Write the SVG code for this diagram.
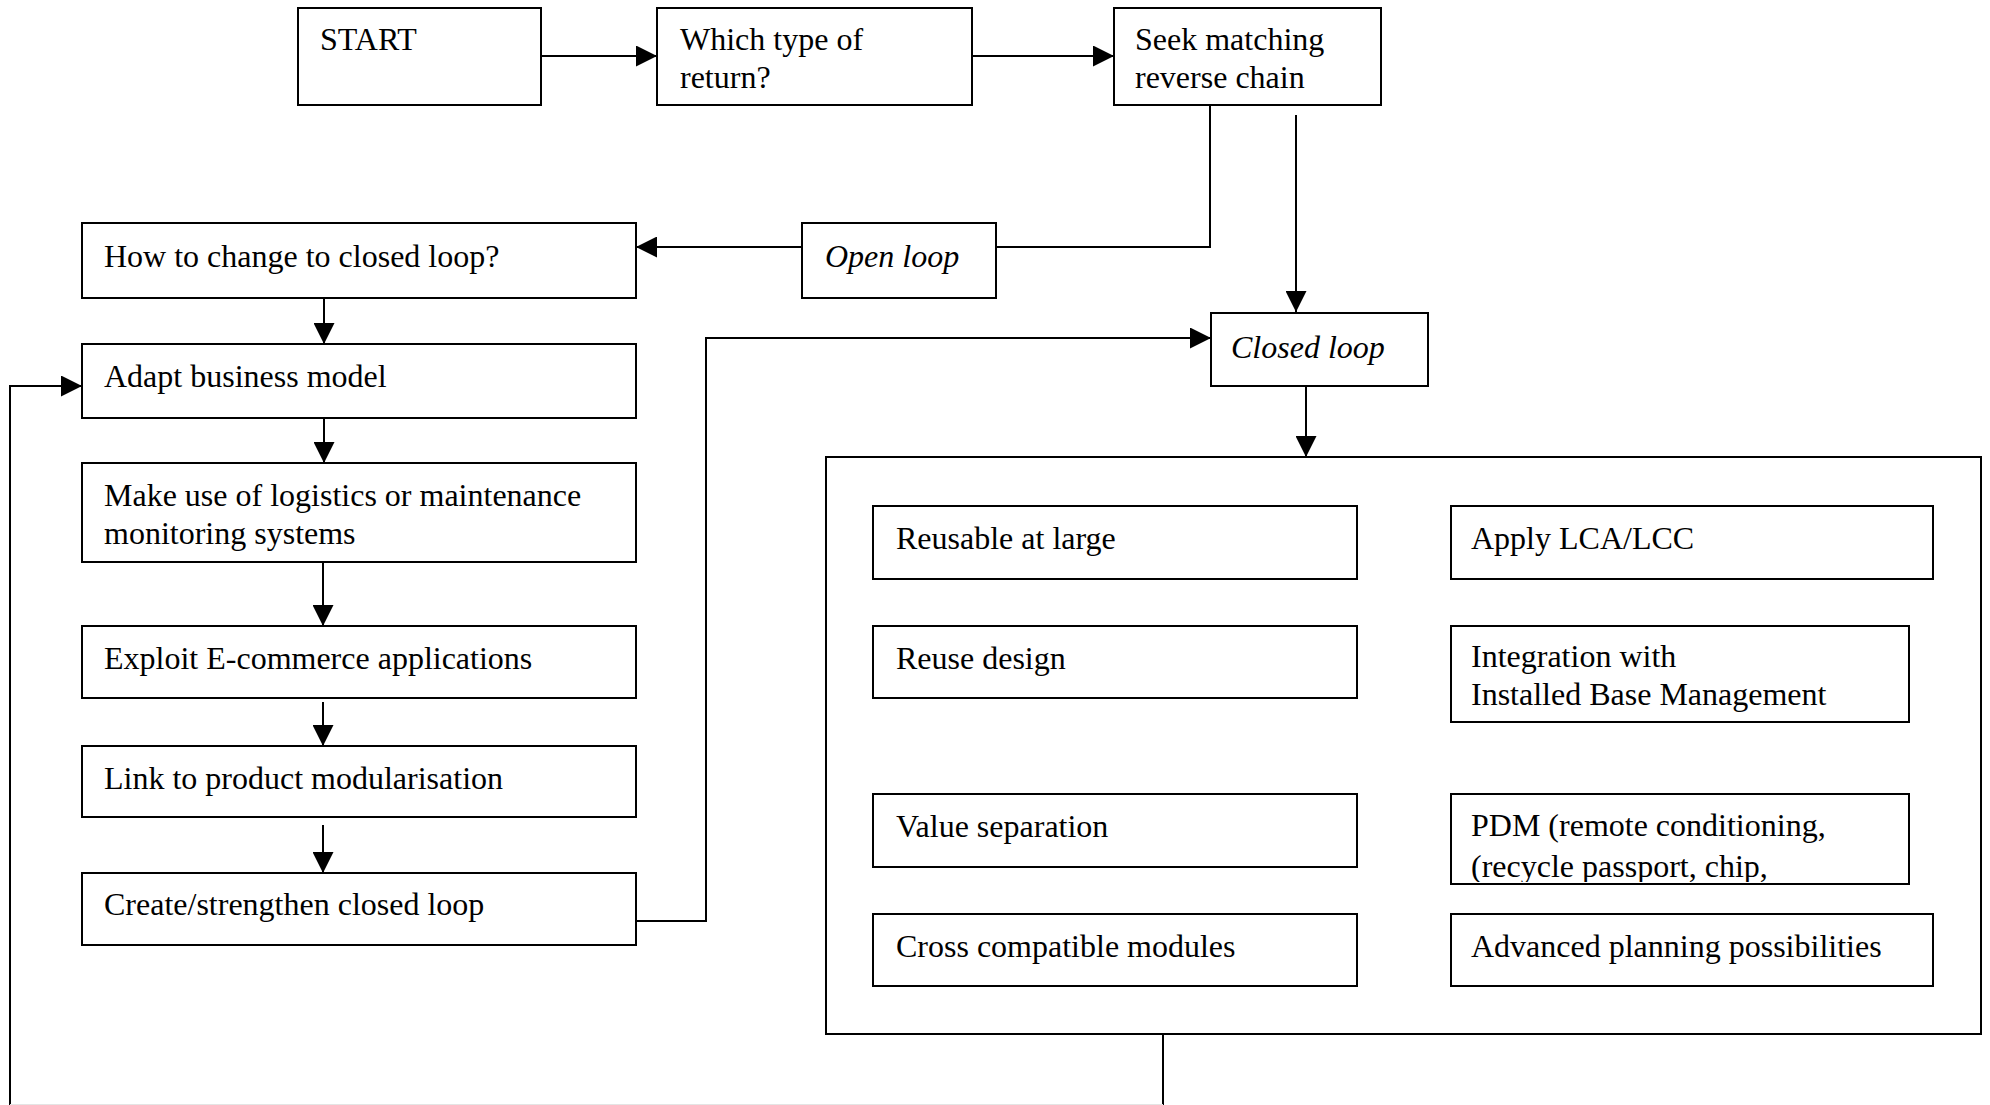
<svg xmlns="http://www.w3.org/2000/svg" width="1990" height="1105" viewBox="0 0 1990 1105">
  <style>
    .box { fill: #ffffff; stroke: #000000; stroke-width: 2; }
    .lbl { font-family: "Liberation Serif", "Times New Roman", serif; font-size: 32px; fill: #000000; }
    .it { font-style: italic; }
    .wire { fill: none; stroke: #000000; stroke-width: 2; }
  </style>
  <defs>
    <marker id="arrow" viewBox="0 0 20 20" refX="20" refY="10" markerWidth="21" markerHeight="21" markerUnits="userSpaceOnUse" orient="auto">
      <path d="M0,0 L20,10 L0,20 Z" fill="#000000"/>
    </marker>
    <clipPath id="pdmClip">
      <rect x="1451" y="794" width="458" height="88"/>
    </clipPath>
  </defs>
  <rect width="1990" height="1105" fill="#ffffff"/>

  <!-- connectors -->
  <g id="connectors">
    <line class="wire" x1="541" y1="56" x2="657" y2="56" marker-end="url(#arrow)"/>
    <line class="wire" x1="972" y1="56" x2="1114" y2="56" marker-end="url(#arrow)"/>
    <polyline class="wire" points="1210,105 1210,247 996,247"/>
    <line class="wire" x1="802" y1="247" x2="636" y2="247" marker-end="url(#arrow)"/>
    <line class="wire" x1="1296" y1="115" x2="1296" y2="312" marker-end="url(#arrow)"/>
    <line class="wire" x1="1306" y1="386" x2="1306" y2="457" marker-end="url(#arrow)"/>
    <line class="wire" x1="324" y1="298" x2="324" y2="344" marker-end="url(#arrow)"/>
    <line class="wire" x1="324" y1="418" x2="324" y2="463" marker-end="url(#arrow)"/>
    <line class="wire" x1="323" y1="562" x2="323" y2="626" marker-end="url(#arrow)"/>
    <line class="wire" x1="323" y1="702" x2="323" y2="746" marker-end="url(#arrow)"/>
    <line class="wire" x1="323" y1="825" x2="323" y2="873" marker-end="url(#arrow)"/>
    <polyline class="wire" points="630,921 706,921 706,338 1211,338" marker-end="url(#arrow)"/>
    <polyline class="wire" points="1163,1034 1163,1105"/>
    <polyline class="wire" points="10,1105 10,386 82,386" marker-end="url(#arrow)"/>
    <line x1="10" y1="1104.5" x2="1163" y2="1104.5" stroke="#e4e4e4" stroke-width="1"/>
  </g>

  <!-- top row -->
  <g id="start">
    <rect class="box" x="298" y="8" width="243" height="97"/>
    <text class="lbl" x="320" y="50">START</text>
  </g>
  <g id="return-type">
    <rect class="box" x="657" y="8" width="315" height="97"/>
    <text class="lbl" x="680" y="50">Which type of</text>
    <text class="lbl" x="680" y="88">return?</text>
  </g>
  <g id="reverse-chain">
    <rect class="box" x="1114" y="8" width="267" height="97"/>
    <text class="lbl" x="1135" y="50">Seek matching</text>
    <text class="lbl" x="1135" y="88">reverse chain</text>
  </g>

  <!-- loop type -->
  <g id="open-loop">
    <rect class="box" x="802" y="223" width="194" height="75"/>
    <text class="lbl it" x="825" y="267">Open loop</text>
  </g>
  <g id="closed-loop">
    <rect class="box" x="1211" y="313" width="217" height="73"/>
    <text class="lbl it" x="1231" y="358">Closed loop</text>
  </g>

  <!-- left column -->
  <g id="change-to-closed">
    <rect class="box" x="82" y="223" width="554" height="75"/>
    <text class="lbl" x="104" y="267">How to change to closed loop?</text>
  </g>
  <g id="adapt-business">
    <rect class="box" x="82" y="344" width="554" height="74"/>
    <text class="lbl" x="104" y="387">Adapt business model</text>
  </g>
  <g id="monitoring">
    <rect class="box" x="82" y="463" width="554" height="99"/>
    <text class="lbl" x="104" y="506">Make use of logistics or maintenance</text>
    <text class="lbl" x="104" y="544">monitoring systems</text>
  </g>
  <g id="e-commerce">
    <rect class="box" x="82" y="626" width="554" height="72"/>
    <text class="lbl" x="104" y="669">Exploit E-commerce applications</text>
  </g>
  <g id="modularisation">
    <rect class="box" x="82" y="746" width="554" height="71"/>
    <text class="lbl" x="104" y="789">Link to product modularisation</text>
  </g>
  <g id="strengthen-loop">
    <rect class="box" x="82" y="873" width="554" height="72"/>
    <text class="lbl" x="104" y="915">Create/strengthen closed loop</text>
  </g>

  <!-- closed-loop measures -->
  <g id="measures">
    <rect class="box" x="826" y="457" width="1155" height="577"/>
  </g>
  <g id="reusable">
    <rect class="box" x="873" y="506" width="484" height="73"/>
    <text class="lbl" x="896" y="549">Reusable at large</text>
  </g>
  <g id="lca-lcc">
    <rect class="box" x="1451" y="506" width="482" height="73"/>
    <text class="lbl" x="1471" y="549">Apply LCA/LCC</text>
  </g>
  <g id="reuse-design">
    <rect class="box" x="873" y="626" width="484" height="72"/>
    <text class="lbl" x="896" y="669">Reuse design</text>
  </g>
  <g id="installed-base">
    <rect class="box" x="1451" y="626" width="458" height="96"/>
    <text class="lbl" x="1471" y="667">Integration with</text>
    <text class="lbl" x="1471" y="705">Installed Base Management</text>
  </g>
  <g id="value-separation">
    <rect class="box" x="873" y="794" width="484" height="73"/>
    <text class="lbl" x="896" y="837">Value separation</text>
  </g>
  <g id="pdm">
    <rect class="box" x="1451" y="794" width="458" height="90"/>
    <g clip-path="url(#pdmClip)">
      <text class="lbl" x="1471" y="836">PDM (remote conditioning,</text>
      <text class="lbl" x="1471" y="877">(recycle passport, chip,</text>
    </g>
  </g>
  <g id="cross-compatible">
    <rect class="box" x="873" y="914" width="484" height="72"/>
    <text class="lbl" x="896" y="957">Cross compatible modules</text>
  </g>
  <g id="advanced-planning">
    <rect class="box" x="1451" y="914" width="482" height="72"/>
    <text class="lbl" x="1471" y="957">Advanced planning possibilities</text>
  </g>
</svg>
